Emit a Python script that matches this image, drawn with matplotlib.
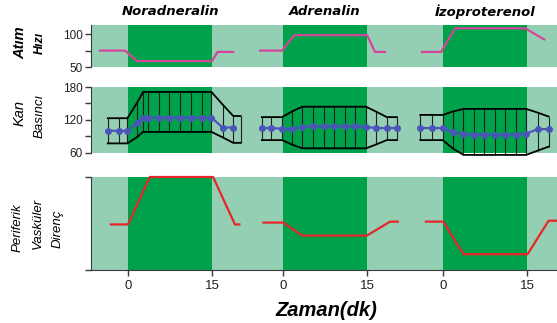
import matplotlib.pyplot as plt

# Colors
dark_green = "#00A14B"
light_green = "#94CFB3"
pink = "#D6449B"
red = "#E8252B"
blue = "#4B55B8"
axis_gray = "#3A3A3A"

drugs = ["Noradneralin", "Adrenalin", "İzoproterenol"]

# Heart rate (time in min, value in beats/min)
hr_time = [
    [-5.0, -0.5, 1.6, 15.0, 16.0, 18.8],
    [-4.1, -0.2, 2.0, 15.0, 16.4, 18.2],
    [-3.8, -0.4, 2.1, 14.6, 18.0],
]
hr_value = [
    [75, 75, 59, 59, 73, 73],
    [75, 75, 98.5, 98.5, 73, 73],
    [73, 73, 109, 109, 92],
]

# Blood pressure (mmHg): sample times, systolic, diastolic, mean
bp_time = [
    [-3.6, -1.6, -0.1, 1.55, 2.7, 3.6, 5.5, 7.3, 9.3, 11.25, 13.2, 14.9, 16.9, 18.8, 20.1],
    [-3.8, -2.2, -0.2, 1.55, 3.4, 5.4, 7.3, 9.1, 11.0, 12.9, 14.8, 16.6, 18.5, 20.3],
    [-4.1, -2.0, -0.1, 1.65, 3.6, 5.5, 7.3, 9.3, 11.1, 13.0, 14.8, 16.9, 18.8],
]
bp_sys = [
    [123, 123, 123, 150, 171, 171, 171, 171, 171, 171, 171, 171, 148, 127, 127],
    [125, 125, 125, 135, 144, 144, 144, 144, 144, 144, 144, 135, 125, 125],
    [129, 129, 129, 135, 140, 140, 140, 140, 140, 140, 140, 133, 126],
]
bp_dia = [
    [77, 77, 77, 88, 98, 98, 98, 98, 98, 98, 98, 98, 88, 78, 78],
    [83, 83, 83, 75, 68, 68, 68, 68, 68, 68, 68, 75, 83, 83],
    [83, 83, 83, 68, 56, 56, 56, 56, 56, 56, 56, 64, 71],
]
bp_mean = [
    [100, 100, 100, 114, 124, 124, 124, 124, 124, 124, 124, 124, 106, 106],
    [105, 105, 104, 103, 107, 108, 108, 108, 108, 108, 107, 105, 105, 105],
    [105, 105, 105, 98, 94, 93, 93, 93, 93, 93, 95, 103, 103],
]

# Peripheral vascular resistance (arbitrary units)
pvr_time = [
    [-3.05, 0.0, 3.9, 15.2, 19.1, 19.9],
    [-3.5, 0.0, 3.45, 14.95, 19.1, 20.5],
    [-3.1, 0.0, 3.6, 15.05, 18.8, 21.0],
]
pvr_value = [
    [49, 49, 100, 100, 49, 49],
    [51, 51, 37, 37, 52, 52],
    [52, 52, 17, 17, 53, 53],
]

infusion = (0, 15)
offsets = [0.0, 27.7, 56.3]  # where each drug's t=0 sits on the shared axis

W, H = 557, 323
fig = plt.figure(figsize=(W / 100, H / 100), dpi=100)
plt.rcParams["font.family"] = ["Liberation Sans", "DejaVu Sans"]


def rect(top_px, bottom_px):
    left = 91 / W
    return [left, 1 - bottom_px / H, 1 - left, (bottom_px - top_px) / H]


ax_hr = fig.add_axes(rect(25, 67))
ax_bp = fig.add_axes(rect(87, 152.7))
ax_pvr = fig.add_axes(rect(177, 270))

for ax in (ax_hr, ax_bp, ax_pvr):
    ax.set_facecolor(light_green)
    ax.set_xlim(-6.6, 76.6)
    for off in offsets:
        ax.axvspan(off + infusion[0], off + infusion[1], color=dark_green, lw=0)
    for s in ("top", "right", "bottom"):
        ax.spines[s].set_visible(False)
    ax.spines["left"].set_color(axis_gray)
    ax.tick_params(axis="y", colors=axis_gray, labelcolor="#222222",
                   labelsize=8.5, length=4, width=1, pad=2)
    ax.set_xticks([])

# Heart rate
for i, off in enumerate(offsets):
    ax_hr.plot([t + off for t in hr_time[i]], hr_value[i], color=pink, lw=1.6)
ax_hr.set_ylim(50, 114)
ax_hr.set_yticks([50, 75, 100], ["50", "", "100"])

# Blood pressure
for i, off in enumerate(offsets):
    t = [x + off for x in bp_time[i]]
    ax_bp.vlines(t, bp_dia[i], bp_sys[i], color="#1E1E1E", lw=0.8, clip_on=False)
    ax_bp.plot(t, bp_sys[i], color="black", lw=1.3, clip_on=False)
    ax_bp.plot(t, bp_dia[i], color="black", lw=1.3, clip_on=False)
    ax_bp.plot(t[:len(bp_mean[i])], bp_mean[i], color=blue, lw=1.6,
               marker="o", ms=4, clip_on=False)
ax_bp.set_ylim(60, 180)
ax_bp.set_yticks([60, 90, 120, 150, 180], ["60", "", "120", "", "180"])

# Peripheral vascular resistance
for i, off in enumerate(offsets):
    ax_pvr.plot([t + off for t in pvr_time[i]], pvr_value[i], color=red, lw=1.6,
                clip_on=False)
ax_pvr.set_ylim(0, 100)
ax_pvr.set_yticks([0, 100], ["", ""])
ax_pvr.spines["bottom"].set_visible(True)
ax_pvr.spines["bottom"].set_color(axis_gray)
ax_pvr.set_xticks([off + v for off in offsets for v in infusion],
                  [str(v) for off in offsets for v in infusion])
ax_pvr.tick_params(axis="x", colors=axis_gray, labelcolor="#222222",
                   labelsize=9.5, length=4, width=1, pad=3)

# Drug titles
for name, off in zip(drugs, offsets):
    ax_hr.text(off + 7.5, 1.31, name, transform=ax_hr.get_xaxis_transform(),
               ha="center", va="center", fontsize=9.5, fontweight="bold",
               style="italic", family="DejaVu Sans")

# Row labels
lab = dict(rotation=90, ha="center", va="center", style="italic")
fig.text(20 / W, 1 - 43 / H, "Atım", fontsize=10.5, fontweight="bold", **lab)
fig.text(40 / W, 1 - 43 / H, "Hızı", fontsize=9, fontweight="bold", **lab)
fig.text(20 / W, 1 - 113 / H, "Kan", fontsize=10.5, **lab)
fig.text(40 / W, 1 - 116 / H, "Basıncı", fontsize=9.5, **lab)
fig.text(18 / W, 1 - 228 / H, "Periferik", fontsize=9.5, **lab)
fig.text(38 / W, 1 - 223 / H, "Vasküler", fontsize=9.5, **lab)
fig.text(58 / W, 1 - 229 / H, "Direnç", fontsize=9.5, **lab)

fig.text(326 / W, 1 - 310 / H, "Zaman(dk)", fontsize=14.5, fontweight="bold",
         style="italic", ha="center", va="center")

fig.savefig("out.png", dpi=100)
